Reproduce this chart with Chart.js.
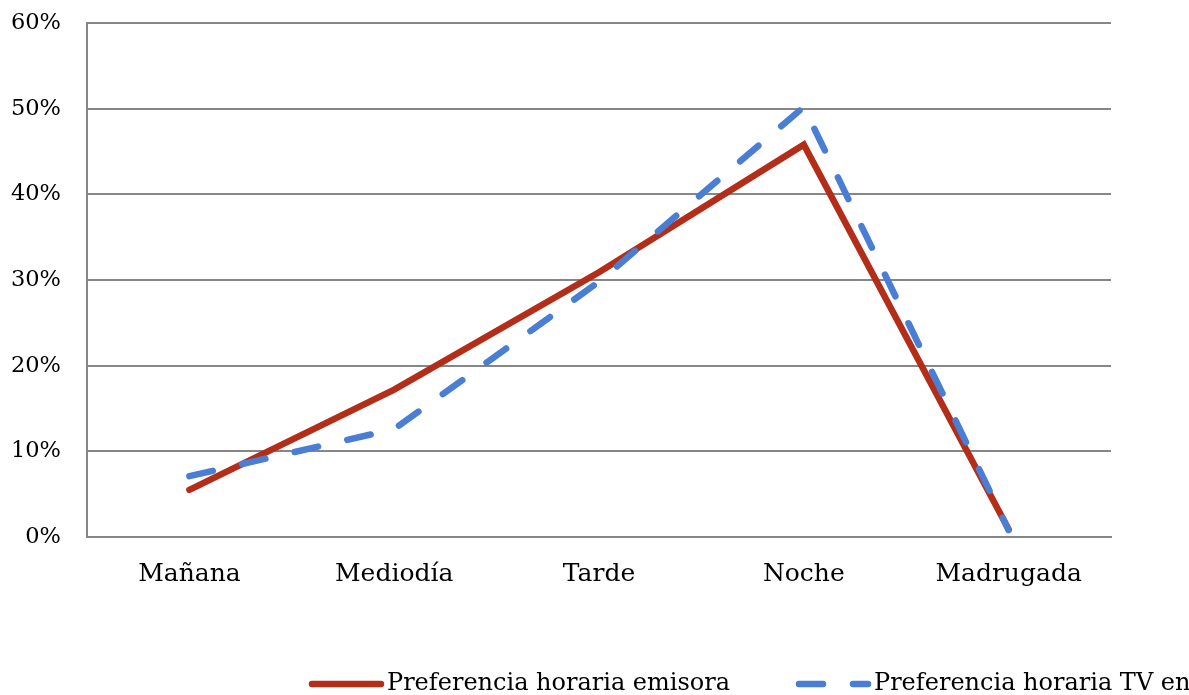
<!DOCTYPE html>
<html>
<head>
<meta charset="utf-8">
<script src="https://cdn.jsdelivr.net/npm/chart.js@4"></script>
<style>
  html, body { margin: 0; padding: 0; background: #fff; overflow: hidden; }
  #wrap { width: 1189px; height: 695px; position: relative; }
</style>
</head>
<body>
<div id="wrap"><canvas id="c" width="1189" height="695"></canvas></div>
<script>
const categories = ['Mañana', 'Mediodía', 'Tarde', 'Noche', 'Madrugada'];
const emisoraValues = [5.5, 17.2, 30.9, 45.8, 0.9];
const tvValues = [7.1, 12.6, 29.8, 50.2, 0.8];
const seriesLabels = ['Preferencia horaria emisora', 'Preferencia horaria TV en general'];
const yTicks = [0, 10, 20, 30, 40, 50, 60];

const FONT = 'DejaVu Serif';
const GRID = '#868686';
const RED = '#B42D19';
const BLUE = '#4A7DD4';

const legendPlugin = {
  id: 'customLegend',
  afterDraw(chart) {
    const ctx = chart.ctx;
    const starts = [309, 796];
    const y = 684;
    ctx.save();
    chart.data.datasets.forEach((ds, i) => {
      const x0 = starts[i];
      ctx.beginPath();
      ctx.strokeStyle = ds.borderColor;
      ctx.lineWidth = ds.borderWidth;
      ctx.lineCap = 'round';
      ctx.setLineDash(ds.borderDash || []);
      ctx.moveTo(x0 + 3, y);
      ctx.lineTo(x0 + 72, y);
      ctx.stroke();
      ctx.setLineDash([]);
      ctx.fillStyle = '#000';
      ctx.font = '24px "' + FONT + '"';
      ctx.textBaseline = 'middle';
      ctx.textAlign = 'left';
      ctx.fillText(ds.label, x0 + 78, y);
    });
    ctx.restore();
  }
};

new Chart(document.getElementById('c'), {
  type: 'line',
  data: {
    labels: categories,
    datasets: [
      { label: seriesLabels[0], data: emisoraValues, borderColor: RED, backgroundColor: RED,
        borderWidth: 6.5, pointRadius: 0, tension: 0, order: 1, borderCapStyle: 'round', borderJoinStyle: 'miter' },
      { label: seriesLabels[1], data: tvValues, borderColor: BLUE, backgroundColor: BLUE,
        borderWidth: 6.5, pointRadius: 0, tension: 0, order: 0, borderDash: [24, 30], borderCapStyle: 'round' }
    ]
  },
  plugins: [legendPlugin],
  options: {
    responsive: false,
    animation: false,
    devicePixelRatio: 1,
    layout: { padding: { top: 23, right: 78, bottom: 0, left: 0 } },
    plugins: { legend: { display: false }, tooltip: { enabled: false } },
    scales: {
      x: {
        offset: true,
        grid: { display: false, drawTicks: false },
        border: { display: true, color: GRID, width: 2 },
        ticks: { color: '#000', font: { family: FONT, size: 25 }, padding: 22, maxRotation: 0 },
        afterFit(scale) { scale.height = 158; scale.paddingLeft = 0; scale.paddingRight = 0; }
      },
      y: {
        min: 0, max: 60,
        afterBuildTicks(scale) { scale.ticks = yTicks.map(v => ({ value: v })); },
        grid: { color: GRID, lineWidth: 2, drawTicks: false },
        border: { display: true, color: GRID, width: 2 },
        ticks: { color: '#000', font: { family: FONT, size: 22.5 }, padding: 26, callback: v => v + '%' },
        afterFit(scale) { scale.width = 87; scale.paddingTop = 0; scale.paddingBottom = 0; }
      }
    }
  }
});
</script>
</body>
</html>
